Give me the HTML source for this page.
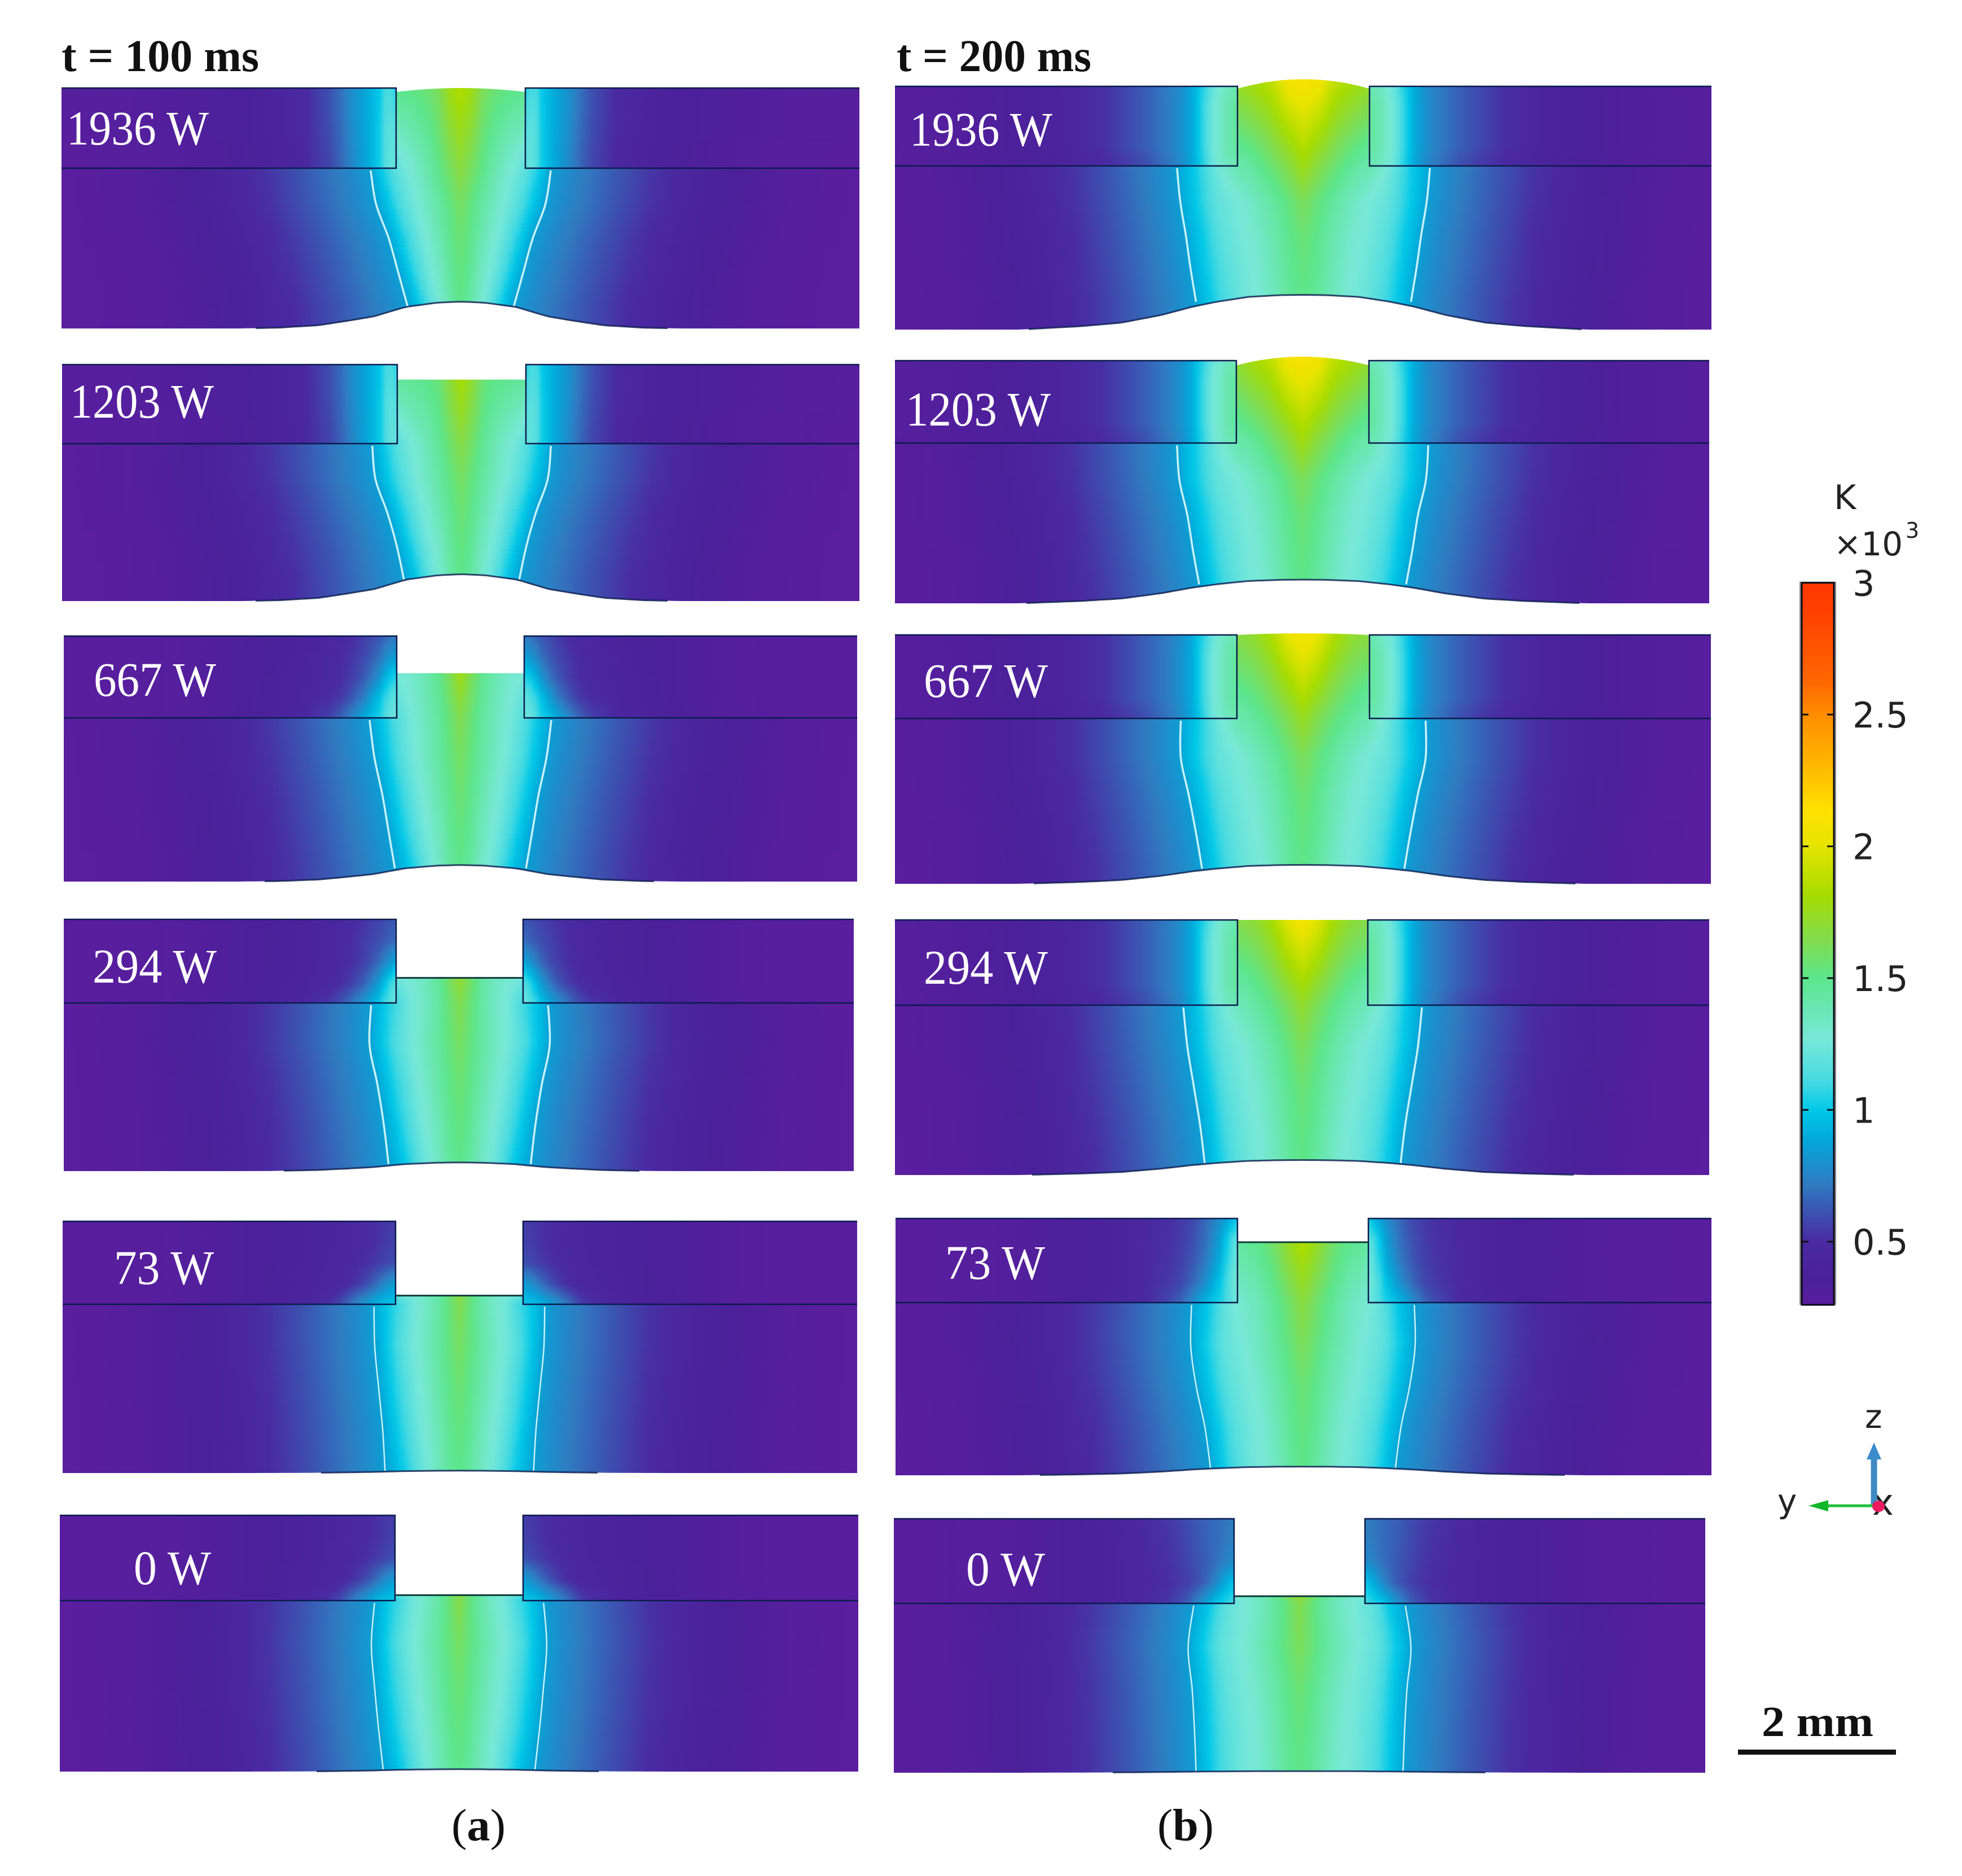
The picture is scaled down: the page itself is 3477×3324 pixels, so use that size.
<!DOCTYPE html>
<html lang="en">
<head>
<meta charset="utf-8">
<title>Temperature fields at t = 100 ms and t = 200 ms</title>
<style>
html,body{margin:0;padding:0;background:#fff;}
svg{display:block;}
.serif{font-family:"Liberation Serif",serif;}
.sans{font-family:"DejaVu Sans","Liberation Sans",sans-serif;fill:#222;}
.power{font-size:86px;fill:#fff;}
.title{font-size:80px;font-weight:bold;fill:#111;}
</style>
</head>
<body>
<svg id="figure" xmlns="http://www.w3.org/2000/svg" width="3477" height="3324" viewBox="0 0 3477 3324">
  <rect x="0" y="0" width="3477" height="3324" fill="#ffffff"/>
  <defs id="defs"></defs>
  <g id="panels"></g>

  <g>
    <text class="serif title" x="109" y="126" textLength="350" lengthAdjust="spacingAndGlyphs">t = 100 ms</text>
    <text class="serif title" x="1589" y="126" textLength="345" lengthAdjust="spacingAndGlyphs">t = 200 ms</text>
  </g>

  <g>
    <text class="serif power" x="118" y="256" textLength="252" lengthAdjust="spacingAndGlyphs">1936 W</text>
    <text class="serif power" x="124" y="740" textLength="255" lengthAdjust="spacingAndGlyphs">1203 W</text>
    <text class="serif power" x="166" y="1233" textLength="217" lengthAdjust="spacingAndGlyphs">667 W</text>
    <text class="serif power" x="164" y="1741" textLength="220" lengthAdjust="spacingAndGlyphs">294 W</text>
    <text class="serif power" x="202" y="2275" textLength="177" lengthAdjust="spacingAndGlyphs">73 W</text>
    <text class="serif power" x="237" y="2807" textLength="137" lengthAdjust="spacingAndGlyphs">0 W</text>
    <text class="serif power" x="1612" y="258" textLength="253" lengthAdjust="spacingAndGlyphs">1936 W</text>
    <text class="serif power" x="1605" y="754" textLength="257" lengthAdjust="spacingAndGlyphs">1203 W</text>
    <text class="serif power" x="1637" y="1235" textLength="220" lengthAdjust="spacingAndGlyphs">667 W</text>
    <text class="serif power" x="1637" y="1743" textLength="220" lengthAdjust="spacingAndGlyphs">294 W</text>
    <text class="serif power" x="1675" y="2266" textLength="177" lengthAdjust="spacingAndGlyphs">73 W</text>
    <text class="serif power" x="1712" y="2809" textLength="140" lengthAdjust="spacingAndGlyphs">0 W</text>
  </g>

  <text class="serif title" x="800" y="3261" style="font-weight:normal" textLength="96" lengthAdjust="spacingAndGlyphs">(<tspan font-weight="bold">a</tspan>)</text>
  <text class="serif title" x="2051" y="3261" style="font-weight:normal" textLength="100" lengthAdjust="spacingAndGlyphs">(<tspan font-weight="bold">b</tspan>)</text>

  <g id="colorbar">
    <text class="sans" x="3250" y="902" font-size="60">K</text>
    <text class="sans" x="3250" y="984" font-size="58" textLength="122" lengthAdjust="spacingAndGlyphs">×10</text>
    <text class="sans" x="3377" y="953" font-size="38">3</text>
  </g>

  <g>
    <text class="sans" x="3318" y="2684" font-size="64">x</text>
    <line x1="3321" y1="2668" x2="3321" y2="2582" stroke="#3f8ac4" stroke-width="11"/>
    <polygon points="3321,2556 3334,2586 3308,2586" fill="#3a8cca"/>
    <line x1="3321" y1="2668" x2="3236" y2="2668" stroke="#22c03a" stroke-width="5"/>
    <polygon points="3205,2668 3240,2658 3240,2678" fill="#12b82a"/>
    <ellipse cx="3329" cy="2669" rx="11" ry="10" fill="#ee1a60"/>
    <text class="sans" x="3305" y="2530" font-size="58">z</text>
    <text class="sans" x="3150" y="2680" font-size="58">y</text>
  </g>

  <g>
    <text class="serif" x="3122" y="3076" font-size="76" font-weight="bold" fill="#111" textLength="198" lengthAdjust="spacingAndGlyphs">2 mm</text>
    <rect x="3080" y="3100" width="280" height="9" fill="#111"/>
  </g>
</svg>

<script>
/* ---------- values (temperature in 10^3 K, lengths in mm) ---------- */
const powersW = [1936, 1203, 667, 294, 73, 0, 1936, 1203, 667, 294, 73, 0];
const timesMs = [100, 100, 100, 100, 100, 100, 200, 200, 200, 200, 200, 200];

/* filler surface below plate top at the gap edge, crown above that edge, root rise at centre */
const fillerDropMm = [0.05, 0.19, 0.47, 0.74, 0.94, 1.01, 0.03, 0.06, 0, 0, 0.30, 0.98];
const fillerCrownMm = [0.05, 0, 0, 0, 0, 0, 0.12, 0.11, 0.02, 0, 0, 0];
const rootRiseMm = [0.34, 0.34, 0.21, 0.11, 0.03, 0.03, 0.44, 0.30, 0.24, 0.19, 0.11, 0.02];
const fillerCapLine = [0, 0, 0, 1, 1, 1, 0, 0, 0, 0, 1, 1];

/* root surface shape */
const rootShapeLatMm = [0, 0.3, 0.7, 1.1, 1.4, 1.8, 2.3, 2.8, 3.6];
const rootShape100 = [1, 0.96, 0.8, 0.45, 0.3, 0.12, 0.03, 0, 0];
const rootShape200 = [1, 0.99, 0.94, 0.8, 0.66, 0.42, 0.2, 0.1, 0];

/* half-width of the fusion boundary at 0, 25, 50, 75, 100 % of the base depth */
const fusionDepthFrac = [0, 0.25, 0.5, 0.75, 1];
const fusionHalfMm = [
  [1.14, 1.07, 0.91, 0.79, 0.67],
  [1.13, 1.09, 0.94, 0.82, 0.73],
  [1.15, 1.09, 0.99, 0.91, 0.83],
  [1.12, 1.14, 1.04, 0.96, 0.90],
  [1.08, 1.07, 1.02, 0.97, 0.94],
  [1.07, 1.11, 1.07, 1.02, 0.96],
  [1.60, 1.56, 1.49, 1.43, 1.36],
  [1.59, 1.56, 1.46, 1.39, 1.31],
  [1.55, 1.55, 1.45, 1.36, 1.28],
  [1.51, 1.46, 1.38, 1.30, 1.24],
  [1.41, 1.42, 1.35, 1.24, 1.17],
  [1.34, 1.41, 1.36, 1.33, 1.31]
];

/* melt temperature rows: u = fraction of fusion half-width */
const meltU = [0, 0.12, 0.25, 0.4, 0.55, 0.7, 0.85, 1];
const surfaceTemp = [
  [1.85, 1.78, 1.62, 1.55, 1.52, 1.50, 1.40, 1.20],
  [1.82, 1.70, 1.55, 1.50, 1.48, 1.45, 1.30, 1.10],
  [1.78, 1.62, 1.48, 1.38, 1.30, 1.27, 1.10, 0.95],
  [1.72, 1.60, 1.45, 1.35, 1.28, 1.25, 1.10, 0.95],
  [1.68, 1.55, 1.42, 1.32, 1.26, 1.22, 1.05, 0.90],
  [1.68, 1.55, 1.42, 1.32, 1.26, 1.18, 1.00, 0.88],
  [2.12, 2.08, 1.90, 1.82, 1.75, 1.60, 1.30, 1.10],
  [2.12, 2.08, 1.90, 1.82, 1.72, 1.60, 1.30, 1.10],
  [2.10, 2.03, 1.85, 1.72, 1.68, 1.55, 1.28, 1.05],
  [2.08, 2.00, 1.82, 1.70, 1.66, 1.50, 1.25, 1.00],
  [1.85, 1.75, 1.60, 1.50, 1.45, 1.35, 1.20, 1.00],
  [1.72, 1.60, 1.45, 1.35, 1.28, 1.22, 1.05, 0.88]
];
const jointTemp = [
  [1.68, 1.60, 1.50, 1.38, 1.28, 1.20, 1.05, 0.87],
  [1.66, 1.58, 1.47, 1.36, 1.28, 1.18, 1.03, 0.87],
  [1.64, 1.55, 1.44, 1.34, 1.26, 1.15, 1.00, 0.87],
  [1.64, 1.55, 1.43, 1.32, 1.26, 1.12, 1.00, 0.87],
  [1.64, 1.54, 1.42, 1.32, 1.24, 1.10, 1.00, 0.87],
  [1.66, 1.54, 1.42, 1.32, 1.24, 1.10, 1.00, 0.87],
  [1.78, 1.66, 1.56, 1.45, 1.38, 1.22, 1.02, 0.87],
  [1.78, 1.66, 1.56, 1.45, 1.38, 1.22, 1.02, 0.87],
  [1.75, 1.64, 1.54, 1.45, 1.38, 1.22, 1.02, 0.87],
  [1.72, 1.62, 1.52, 1.42, 1.35, 1.22, 1.02, 0.87],
  [1.68, 1.58, 1.48, 1.36, 1.30, 1.20, 1.00, 0.87],
  [1.65, 1.54, 1.42, 1.32, 1.26, 1.18, 1.00, 0.87]
];
/* base metal rows at 25, 50, 75, 100 % depth */
const baseTemp100 = [
  [1.60, 1.53, 1.44, 1.34, 1.25, 1.15, 1.00, 0.87],
  [1.56, 1.51, 1.42, 1.32, 1.24, 1.12, 1.00, 0.87],
  [1.53, 1.49, 1.39, 1.30, 1.22, 1.10, 0.98, 0.87],
  [1.50, 1.46, 1.37, 1.28, 1.18, 1.05, 0.95, 0.86]
];
const baseTemp200 = [
  [1.62, 1.54, 1.44, 1.34, 1.26, 1.20, 1.03, 0.88],
  [1.56, 1.50, 1.40, 1.31, 1.25, 1.18, 1.02, 0.88],
  [1.53, 1.48, 1.38, 1.29, 1.24, 1.16, 1.02, 0.88],
  [1.51, 1.46, 1.36, 1.28, 1.24, 1.15, 1.02, 0.88]
];
/* solid metal outside the fusion boundary */
const outerDistMm = [0, 0.21, 0.43, 0.82, 1.43, 1.79, 2.14, 2.86, 3.93];
const outerTemp = [0.85, 0.78, 0.72, 0.63, 0.50, 0.43, 0.37, 0.30, 0.26];

/* plate temperatures: rows top to bottom of plate, columns by distance from gap edge */
const plateEdgeMm = [0, 0.11, 0.21, 0.32, 0.43, 0.57, 0.71, 0.93, 1.21, 1.57, 2.14, 3, 5];
const plateHot = [
  [1.38, 1.36, 1.30, 1.20, 1.05, 0.90, 0.79, 0.70, 0.63, 0.54, 0.43, 0.33, 0.26],
  [1.45, 1.40, 1.32, 1.24, 1.08, 0.90, 0.80, 0.70, 0.63, 0.54, 0.43, 0.33, 0.26],
  [1.45, 1.40, 1.32, 1.24, 1.08, 0.90, 0.80, 0.70, 0.63, 0.54, 0.43, 0.33, 0.26],
  [1.45, 1.40, 1.32, 1.24, 1.08, 0.90, 0.80, 0.70, 0.63, 0.54, 0.43, 0.33, 0.26],
  [1.38, 1.36, 1.30, 1.22, 1.05, 0.88, 0.77, 0.67, 0.58, 0.50, 0.40, 0.32, 0.26]
];
const plateWarm = [
  [1.05, 1.15, 1.00, 0.92, 0.86, 0.78, 0.68, 0.56, 0.46, 0.40, 0.34, 0.30, 0.26],
  [1.10, 1.18, 1.01, 0.92, 0.86, 0.78, 0.68, 0.56, 0.46, 0.40, 0.34, 0.30, 0.26],
  [1.15, 1.20, 1.02, 0.92, 0.86, 0.77, 0.67, 0.55, 0.46, 0.40, 0.34, 0.30, 0.26],
  [1.18, 1.20, 1.02, 0.92, 0.85, 0.76, 0.66, 0.54, 0.45, 0.39, 0.33, 0.29, 0.26],
  [1.20, 1.20, 1.02, 0.92, 0.85, 0.75, 0.65, 0.53, 0.45, 0.39, 0.33, 0.29, 0.26]
];
const plate667 = [
  [0.72, 0.68, 0.62, 0.58, 0.54, 0.50, 0.47, 0.42, 0.40, 0.36, 0.32, 0.28, 0.26],
  [0.85, 0.80, 0.70, 0.63, 0.58, 0.53, 0.49, 0.45, 0.41, 0.36, 0.32, 0.28, 0.26],
  [1.05, 0.98, 0.82, 0.70, 0.62, 0.55, 0.50, 0.46, 0.42, 0.37, 0.32, 0.28, 0.26],
  [1.20, 1.12, 0.98, 0.85, 0.72, 0.62, 0.54, 0.48, 0.43, 0.38, 0.32, 0.28, 0.26],
  [1.25, 1.20, 1.05, 0.97, 0.88, 0.76, 0.65, 0.52, 0.44, 0.39, 0.33, 0.28, 0.26]
];
const plate294 = [
  [0.62, 0.60, 0.57, 0.55, 0.52, 0.50, 0.47, 0.43, 0.40, 0.36, 0.32, 0.28, 0.26],
  [0.68, 0.64, 0.60, 0.57, 0.54, 0.50, 0.47, 0.43, 0.40, 0.36, 0.32, 0.28, 0.26],
  [0.88, 0.78, 0.68, 0.60, 0.55, 0.51, 0.48, 0.44, 0.40, 0.36, 0.32, 0.28, 0.26],
  [1.15, 1.02, 0.85, 0.72, 0.63, 0.55, 0.50, 0.45, 0.41, 0.37, 0.32, 0.28, 0.26],
  [1.25, 1.15, 1.00, 0.90, 0.80, 0.70, 0.60, 0.50, 0.43, 0.38, 0.33, 0.28, 0.26]
];
const plateCool = [
  [0.55, 0.54, 0.52, 0.50, 0.48, 0.46, 0.44, 0.42, 0.39, 0.36, 0.32, 0.28, 0.26],
  [0.56, 0.55, 0.52, 0.50, 0.48, 0.46, 0.44, 0.42, 0.39, 0.36, 0.32, 0.28, 0.26],
  [0.60, 0.58, 0.55, 0.52, 0.50, 0.47, 0.45, 0.42, 0.39, 0.36, 0.32, 0.28, 0.26],
  [0.85, 0.78, 0.70, 0.62, 0.56, 0.50, 0.46, 0.43, 0.40, 0.36, 0.32, 0.28, 0.26],
  [1.00, 0.98, 0.95, 0.87, 0.80, 0.70, 0.58, 0.48, 0.41, 0.37, 0.33, 0.28, 0.26]
];
const plate73b = [
  [1.00, 0.90, 0.80, 0.72, 0.65, 0.58, 0.54, 0.50, 0.45, 0.40, 0.34, 0.29, 0.26],
  [1.20, 1.05, 0.88, 0.75, 0.67, 0.60, 0.55, 0.50, 0.45, 0.40, 0.34, 0.29, 0.26],
  [1.25, 1.10, 0.92, 0.80, 0.70, 0.62, 0.56, 0.51, 0.46, 0.40, 0.34, 0.29, 0.26],
  [1.28, 1.15, 1.00, 0.88, 0.76, 0.66, 0.58, 0.52, 0.46, 0.40, 0.34, 0.29, 0.26],
  [1.25, 1.15, 1.05, 0.98, 0.92, 0.78, 0.66, 0.55, 0.48, 0.41, 0.34, 0.29, 0.26]
];
const plate0b = [
  [0.72, 0.70, 0.68, 0.66, 0.64, 0.60, 0.56, 0.52, 0.47, 0.41, 0.34, 0.29, 0.26],
  [0.74, 0.71, 0.68, 0.66, 0.63, 0.59, 0.55, 0.51, 0.46, 0.40, 0.34, 0.29, 0.26],
  [0.78, 0.74, 0.69, 0.65, 0.62, 0.58, 0.54, 0.50, 0.45, 0.40, 0.34, 0.29, 0.26],
  [0.98, 0.90, 0.78, 0.68, 0.62, 0.56, 0.53, 0.49, 0.45, 0.40, 0.34, 0.29, 0.26],
  [1.12, 1.05, 1.00, 0.90, 0.78, 0.66, 0.58, 0.50, 0.45, 0.40, 0.34, 0.29, 0.26]
];
const platePerPanel = [plateWarm, plateWarm, plate667, plate294, plateCool, plateCool,
                       plateHot, plateHot, plateHot, plateHot, plate73b, plate0b];

/* colour scale */
const scaleTemps = [0.26, 0.35, 0.50, 0.61, 0.72, 0.88, 1.00, 1.095, 1.27, 1.50, 1.64, 1.82, 2.01, 2.14, 2.32, 2.49, 2.62, 2.89, 3.00];
const scaleColors = ['#5a1e9f', '#4b209a', '#4a2aa2', '#3c52b0', '#2f7cc2', '#04a6d8', '#00c8e8', '#40d8e2', '#78e8d8', '#5ce68c', '#80dc50', '#a8dc00', '#e8e400', '#ffe000', '#ffb400', '#ff9000', '#ff6800', '#ff4000', '#ff3800'];
const colorbarTicks = [3, 2.5, 2, 1.5, 1, 0.5];
const colorbarTickLabels = ['3', '2.5', '2', '1.5', '1', '0.5'];

/* ---------- page layout ---------- */
const panelFrames = [
  {x0:109,x1:1523,top:156,line:298,bottom:582,gapL:702,gapR:931},
  {x0:110,x1:1523,top:646,line:786,bottom:1065,gapL:704,gapR:932},
  {x0:113,x1:1519,top:1127,line:1272,bottom:1562,gapL:703,gapR:929},
  {x0:113,x1:1513,top:1629,line:1777,bottom:2075,gapL:702,gapR:927},
  {x0:111,x1:1519,top:2164,line:2311,bottom:2610,gapL:701,gapR:927},
  {x0:106,x1:1521,top:2685,line:2836,bottom:3139,gapL:700,gapR:927},
  {x0:1586,x1:3033,top:153,line:294,bottom:584,gapL:2193,gapR:2427},
  {x0:1586,x1:3029,top:639,line:785,bottom:1069,gapL:2191,gapR:2426},
  {x0:1586,x1:3032,top:1125,line:1273,bottom:1566,gapL:2192,gapR:2427},
  {x0:1586,x1:3029,top:1630,line:1781,bottom:2082,gapL:2193,gapR:2424},
  {x0:1587,x1:3033,top:2159,line:2308,bottom:2614,gapL:2193,gapR:2425},
  {x0:1584,x1:3022,top:2691,line:2841,bottom:3141,gapL:2187,gapR:2419}
];
const PX_PER_MM = 140;
const BAR = {left:3193, right:3250, top:1032.6, bottom:2312};

/* ---------- helpers ---------- */
const NS = 'http://www.w3.org/2000/svg';
const defs = document.getElementById('defs');
const panelsRoot = document.getElementById('panels');
let gradCount = 0;

function make(tag, parent) {
  const el = document.createElementNS(NS, tag);
  parent.appendChild(el);
  return el;
}
function interp(xs, ys, x) {
  if (x <= xs[0]) return ys[0];
  for (let i = 1; i < xs.length; i++) {
    if (x <= xs[i]) {
      const t = (x - xs[i - 1]) / (xs[i] - xs[i - 1]);
      return ys[i - 1] + t * (ys[i] - ys[i - 1]);
    }
  }
  return ys[ys.length - 1];
}
function hexToRgb(h) {
  return [parseInt(h.slice(1, 3), 16), parseInt(h.slice(3, 5), 16), parseInt(h.slice(5, 7), 16)];
}
const scaleRgb = scaleColors.map(hexToRgb);
function colorOf(T) {
  const c = [0, 1, 2].map(function (k) {
    return Math.round(interp(scaleTemps, scaleRgb.map(function (r) { return r[k]; }), T));
  });
  return 'rgb(' + c[0] + ',' + c[1] + ',' + c[2] + ')';
}
function tempScaleY(T) {
  return BAR.top + (3 - T) * 467;
}
function smoothPath(points) {
  let d = 'M' + points[0][0].toFixed(1) + ' ' + points[0][1].toFixed(1);
  for (let i = 0; i < points.length - 1; i++) {
    const p0 = points[Math.max(0, i - 1)];
    const p1 = points[i];
    const p2 = points[i + 1];
    const p3 = points[Math.min(points.length - 1, i + 2)];
    const c1x = p1[0] + (p2[0] - p0[0]) / 6;
    const c1y = p1[1] + (p2[1] - p0[1]) / 6;
    const c2x = p2[0] - (p3[0] - p1[0]) / 6;
    const c2y = p2[1] - (p3[1] - p1[1]) / 6;
    d += ' C' + c1x.toFixed(1) + ' ' + c1y.toFixed(1) + ' ' + c2x.toFixed(1) + ' ' + c2y.toFixed(1) + ' ' + p2[0].toFixed(1) + ' ' + p2[1].toFixed(1);
  }
  return d;
}

function fusionLatPx(p, z) {
  const f = panelFrames[p];
  const rise = rootRiseMm[p] * PX_PER_MM;
  const depth = f.bottom - rise * 0.8 - f.line;
  const q = Math.max(0, Math.min(1, (z - f.line) / depth));
  return PX_PER_MM * interp(fusionDepthFrac, fusionHalfMm[p], q);
}
function rootY(p, latPx) {
  const shape = timesMs[p] === 100 ? rootShape100 : rootShape200;
  return panelFrames[p].bottom - rootRiseMm[p] * PX_PER_MM * interp(rootShapeLatMm, shape, latPx / PX_PER_MM);
}
function surfaceEdgeY(p) {
  return panelFrames[p].top + fillerDropMm[p] * PX_PER_MM;
}
function surfaceY(p, latPx) {
  const f = panelFrames[p];
  const h = (f.gapR - f.gapL) / 2;
  const r = Math.min(1, latPx / h);
  return surfaceEdgeY(p) - fillerCrownMm[p] * PX_PER_MM * (1 - r * r);
}
function bodyTemp(p, lat, z) {
  const f = panelFrames[p];
  const fus = fusionLatPx(p, z);
  if (lat > fus) return interp(outerDistMm, outerTemp, (lat - fus) / PX_PER_MM);
  const u = lat / fus;
  const base = timesMs[p] === 100 ? baseTemp100 : baseTemp200;
  const rows = [surfaceTemp[p], jointTemp[p], base[0], base[1], base[2], base[3]];
  const surf = surfaceY(p, 0);
  let pos;
  if (z < f.line) {
    pos = Math.max(0, (z - surf) / Math.max(1, f.line - surf));
  } else {
    const depth = f.bottom - rootRiseMm[p] * PX_PER_MM * 0.8 - f.line;
    pos = 1 + 4 * Math.min(1, (z - f.line) / depth);
  }
  const i = Math.min(4, Math.floor(pos));
  const t = pos - i;
  const a = interp(meltU, rows[i], u);
  const b = interp(meltU, rows[i + 1], u);
  return a + t * (b - a);
}
function plateTemp(p, edgePx, z) {
  const f = panelFrames[p];
  const grid = platePerPanel[p];
  const pos = Math.max(0, Math.min(4, 4 * (z - f.top) / (f.line - f.top)));
  const i = Math.min(3, Math.floor(pos));
  const t = pos - i;
  const e = edgePx / PX_PER_MM;
  const a = interp(plateEdgeMm, grid[i], e);
  const b = interp(plateEdgeMm, grid[i + 1], e);
  return a + t * (b - a);
}
function lateralSamples(maxPx) {
  const out = [];
  for (let d = 0; d < 300; d += 10) out.push(d);
  for (let d = 300; d < maxPx; d += 36) out.push(d);
  out.push(maxPx);
  return out;
}
function plateSamples(maxPx) {
  const out = [];
  for (let d = 0; d < 120; d += 10) out.push(d);
  for (let d = 120; d < maxPx; d += 40) out.push(d);
  out.push(maxPx);
  return out;
}

/* ---------- draw the twelve temperature panels ---------- */
panelFrames.forEach(function (f, p) {
  const cx = (f.gapL + f.gapR) / 2;
  const halfGap = (f.gapR - f.gapL) / 2;
  const tag = (timesMs[p] === 100 ? 'a-' : 'b-') + powersW[p] + 'w';

  const g = make('g', panelsRoot);
  
  

  /* clip shape of filler plus base metal */
  const pts = [];
  pts.push([f.x0, f.line], [f.gapL, f.line], [f.gapL, surfaceEdgeY(p)]);
  for (let l = -halfGap; l <= halfGap; l += 6) pts.push([cx + l, surfaceY(p, Math.abs(l))]);
  pts.push([f.gapR, surfaceEdgeY(p)], [f.gapR, f.line], [f.x1, f.line], [f.x1, f.bottom]);
  const rootPts = [];
  for (let x = f.x1; x >= f.x0; x -= 10) rootPts.push([x, rootY(p, Math.abs(x - cx))]);
  rootPts.forEach(function (q) { pts.push(q); });
  pts.push([f.x0, f.bottom]);

  const clip = make('clipPath', defs);
  clip.setAttribute('id', 'clip-body-' + p);
  const poly = make('polygon', clip);
  poly.setAttribute('points', pts.map(function (q) { return q[0].toFixed(1) + ',' + q[1].toFixed(1); }).join(' '));

  const bodyGroup = make('g', g);
  bodyGroup.setAttribute('clip-path', 'url(#clip-body-' + p + ')');
  
  

  const span = Math.max(cx - f.x0, f.x1 - cx) + 4;
  const lats = lateralSamples(span);
  const yStart = Math.floor(surfaceY(p, 0)) - 2;

  for (let y = yStart; y < f.bottom; y += 8) {
    const mid = y + 4;
    const id = 'grad-' + (gradCount++);
    const grad = make('linearGradient', defs);
    grad.setAttribute('id', id);
    grad.setAttribute('gradientUnits', 'userSpaceOnUse');
    grad.setAttribute('x1', cx - span);
    grad.setAttribute('x2', cx + span);
    grad.setAttribute('y1', 0);
    grad.setAttribute('y2', 0);
    for (let i = lats.length - 1; i >= 0; i--) {
      const st = make('stop', grad);
      st.setAttribute('offset', ((span - lats[i]) / (2 * span)).toFixed(5));
      st.setAttribute('stop-color', colorOf(bodyTemp(p, lats[i], mid)));
    }
    for (let i = 1; i < lats.length; i++) {
      const st = make('stop', grad);
      st.setAttribute('offset', ((span + lats[i]) / (2 * span)).toFixed(5));
      st.setAttribute('stop-color', colorOf(bodyTemp(p, lats[i], mid)));
    }
    const band = make('rect', bodyGroup);
    band.setAttribute('x', f.x0);
    band.setAttribute('y', y);
    band.setAttribute('width', f.x1 - f.x0);
    band.setAttribute('height', 9);
    band.setAttribute('fill', 'url(#' + id + ')');
    
    
  }

  /* the two plates */
  [[f.x0, f.gapL, 'left'], [f.gapR, f.x1, 'right']].forEach(function (side) {
    const xa = side[0], xb = side[1], isLeft = side[2] === 'left';
    const width = xb - xa;
    const samples = plateSamples(width);
    const plateGroup = make('g', g);
    
    
    for (let y = f.top; y < f.line; y += 4) {
      const h = Math.min(4, f.line - y);
      const mid = y + h / 2;
      const id = 'grad-' + (gradCount++);
      const grad = make('linearGradient', defs);
      grad.setAttribute('id', id);
      grad.setAttribute('gradientUnits', 'userSpaceOnUse');
      grad.setAttribute('x1', xa);
      grad.setAttribute('x2', xb);
      grad.setAttribute('y1', 0);
      grad.setAttribute('y2', 0);
      const ordered = isLeft ? samples.slice().reverse() : samples;
      ordered.forEach(function (e) {
        const st = make('stop', grad);
        const off = isLeft ? (width - e) / width : e / width;
        st.setAttribute('offset', off.toFixed(5));
        st.setAttribute('stop-color', colorOf(plateTemp(p, e, mid)));
      });
      const band = make('rect', plateGroup);
      band.setAttribute('x', xa);
      band.setAttribute('y', y);
      band.setAttribute('width', width);
      band.setAttribute('height', h + 0.5);
      band.setAttribute('fill', 'url(#' + id + ')');
      
      
    }
  });

  /* fusion boundaries */
  [-1, 1].forEach(function (dir) {
    const rise = rootRiseMm[p] * PX_PER_MM;
    const depth = f.bottom - rise * 0.8 - f.line;
    const curvePts = fusionDepthFrac.map(function (q, k) {
      return [cx + dir * fusionHalfMm[p][k] * PX_PER_MM, f.line + 4 + q * (depth - 4)];
    });
    const curve = make('path', g);
    curve.setAttribute('d', smoothPath(curvePts));
    curve.setAttribute('fill', 'none');
    curve.setAttribute('stroke', '#c8f2f8');
    curve.setAttribute('stroke-width', p % 6 < 4 ? 3.5 : 2.5);
    
    
  });

  /* root surface outline */
  const rootLine = make('polyline', g);
  rootLine.setAttribute('points', rootPts.filter(function (q) {
    return q[1] < f.bottom - 0.5;
  }).map(function (q) { return q[0].toFixed(1) + ',' + q[1].toFixed(1); }).join(' '));
  rootLine.setAttribute('fill', 'none');
  rootLine.setAttribute('stroke', '#0a1c4e');
  rootLine.setAttribute('stroke-width', 3);
  rootLine.setAttribute('stroke-opacity', 0.8);
  
  

  /* plate outlines */
  const leftOutline = make('polyline', g);
  leftOutline.setAttribute('points', f.x0 + ',' + f.top + ' ' + f.gapL + ',' + f.top + ' ' + f.gapL + ',' + f.line + ' ' + f.x0 + ',' + f.line);
  leftOutline.setAttribute('fill', 'none');
  leftOutline.setAttribute('stroke', '#0b1b4c');
  leftOutline.setAttribute('stroke-width', 2.5);
  
  

  const rightOutline = make('polyline', g);
  rightOutline.setAttribute('points', f.x1 + ',' + f.top + ' ' + f.gapR + ',' + f.top + ' ' + f.gapR + ',' + f.line + ' ' + f.x1 + ',' + f.line);
  rightOutline.setAttribute('fill', 'none');
  rightOutline.setAttribute('stroke', '#0b1b4c');
  rightOutline.setAttribute('stroke-width', 2.5);
  
  

  if (fillerCapLine[p]) {
    const cap = make('line', g);
    cap.setAttribute('x1', f.gapL);
    cap.setAttribute('x2', f.gapR);
    cap.setAttribute('y1', surfaceEdgeY(p));
    cap.setAttribute('y2', surfaceEdgeY(p));
    cap.setAttribute('stroke', '#0d3a3a');
    cap.setAttribute('stroke-width', 3);
    
    
  }
});

/* ---------- colorbar ---------- */
(function () {
  const bar = document.getElementById('colorbar');
  const grad = make('linearGradient', defs);
  grad.setAttribute('id', 'colorbar-gradient');
  grad.setAttribute('gradientUnits', 'userSpaceOnUse');
  grad.setAttribute('x1', 0);
  grad.setAttribute('x2', 0);
  grad.setAttribute('y1', tempScaleY(3));
  grad.setAttribute('y2', tempScaleY(scaleTemps[0]));
  for (let i = scaleTemps.length - 1; i >= 0; i--) {
    const st = make('stop', grad);
    st.setAttribute('offset', ((3 - scaleTemps[i]) / (3 - scaleTemps[0])).toFixed(4));
    st.setAttribute('stop-color', scaleColors[i]);
  }

  const halo = make('rect', bar);
  halo.setAttribute('x', BAR.left - 4);
  halo.setAttribute('y', BAR.top - 2);
  halo.setAttribute('width', BAR.right - BAR.left + 8);
  halo.setAttribute('height', BAR.bottom - BAR.top + 2);
  halo.setAttribute('fill', '#8a8a8f');
  
  

  const rect = make('rect', bar);
  rect.setAttribute('x', BAR.left);
  rect.setAttribute('y', BAR.top);
  rect.setAttribute('width', BAR.right - BAR.left);
  rect.setAttribute('height', BAR.bottom - BAR.top);
  rect.setAttribute('fill', 'url(#colorbar-gradient)');
  rect.setAttribute('stroke', '#0a0a14');
  rect.setAttribute('stroke-width', 3);
  
  

  colorbarTicks.forEach(function (T, i) {
    const y = tempScaleY(T);
    const t1 = make('line', bar);
    t1.setAttribute('x1', BAR.left);
    t1.setAttribute('x2', BAR.left + 12);
    t1.setAttribute('y1', y);
    t1.setAttribute('y2', y);
    t1.setAttribute('stroke', '#111');
    t1.setAttribute('stroke-width', 3);
    
    

    const t2 = make('line', bar);
    t2.setAttribute('x1', BAR.right - 12);
    t2.setAttribute('x2', BAR.right);
    t2.setAttribute('y1', y);
    t2.setAttribute('y2', y);
    t2.setAttribute('stroke', '#111');
    t2.setAttribute('stroke-width', 3);
    
    

    const label = make('text', bar);
    label.setAttribute('class', 'sans');
    label.setAttribute('x', 3283);
    label.setAttribute('y', y + 23);
    label.setAttribute('font-size', 62);
    label.textContent = colorbarTickLabels[i];
    
    
  });
})();
</script>
</body>
</html>
